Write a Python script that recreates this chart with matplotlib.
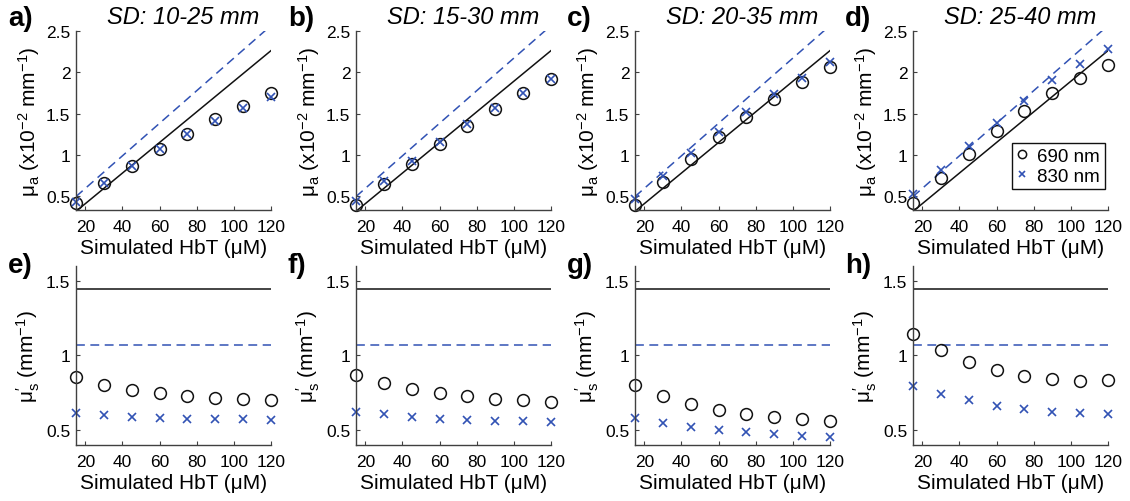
import matplotlib
matplotlib.use("Agg")
import matplotlib.pyplot as plt
import numpy as np

plt.rcParams['font.family'] = ['Liberation Sans', 'DejaVu Sans']
plt.rcParams['mathtext.fontset'] = 'custom'
plt.rcParams['mathtext.rm'] = 'Liberation Sans'
plt.rcParams['mathtext.it'] = 'Liberation Sans:italic'

hbt = [15, 30, 45, 60, 75, 90, 105, 120]
titles = ['SD: 10-25 mm', 'SD: 15-30 mm', 'SD: 20-35 mm', 'SD: 25-40 mm']
top_labels = ['a)', 'b)', 'c)', 'd)']
bot_labels = ['e)', 'f)', 'g)', 'h)']

# Recovered mu_a (x10^-2 mm^-1)
mua_690 = [
    [0.41, 0.65, 0.865, 1.07, 1.254, 1.437, 1.595, 1.745],
    [0.39, 0.64, 0.885, 1.125, 1.348, 1.555, 1.745, 1.92],
    [0.387, 0.67, 0.943, 1.21, 1.46, 1.68, 1.883, 2.066],
    [0.41, 0.71, 1.007, 1.283, 1.527, 1.745, 1.936, 2.094],
]
mua_830 = [
    [0.42, 0.65, 0.865, 1.07, 1.25, 1.405, 1.563, 1.70],
    [0.44, 0.68, 0.925, 1.157, 1.369, 1.567, 1.753, 1.92],
    [0.46, 0.743, 1.02, 1.27, 1.515, 1.733, 1.936, 2.13],
    [0.52, 0.816, 1.108, 1.384, 1.656, 1.907, 2.10, 2.285],
]
# True mu_a lines (endpoints at HbT 15 and 120)
true_hbt = [15, 120]
true_mua_690 = [0.31, 2.265]
true_mua_830 = [0.49, 2.57]

# Recovered mu_s' (mm^-1)
mus_690 = [
    [0.857, 0.80, 0.768, 0.746, 0.73, 0.717, 0.705, 0.699],
    [0.868, 0.8125, 0.777, 0.75, 0.728, 0.71, 0.699, 0.685],
    [0.80, 0.73, 0.676, 0.636, 0.607, 0.587, 0.574, 0.56],
    [1.14, 1.036, 0.953, 0.90, 0.864, 0.842, 0.83, 0.833],
]
mus_830 = [
    [0.616, 0.60, 0.587, 0.58, 0.576, 0.574, 0.571, 0.569],
    [0.62, 0.605, 0.587, 0.576, 0.567, 0.56, 0.558, 0.556],
    [0.578, 0.549, 0.52, 0.50, 0.487, 0.473, 0.462, 0.453],
    [0.795, 0.739, 0.699, 0.663, 0.638, 0.618, 0.612, 0.605],
]
true_mus_690 = 1.442
true_mus_830 = 1.071

BLUE = '#3152B4'
BLACK = '#111111'
SPINE = '#404040'

W, H = 1130, 502
fig = plt.figure(figsize=(W / 100, H / 100), dpi=100)

lefts = [76, 356, 635, 913]
width = 195

def ax_at(x0, y0, x1, y1):
    return fig.add_axes([x0 / W, 1 - y1 / H, (x1 - x0) / W, (y1 - y0) / H])

def style(ax):
    for s in ['top', 'right']:
        ax.spines[s].set_visible(False)
    for s in ['left', 'bottom']:
        ax.spines[s].set_color(SPINE)
        ax.spines[s].set_linewidth(1.0)
    ax.tick_params(direction='in', length=3, width=0.8, color=SPINE,
                   labelsize=12.5)
    ax.tick_params(axis='x', pad=6.5)
    ax.tick_params(axis='y', pad=4)
    ax.set_xlim(15, 120)
    ax.set_xticks([20, 40, 60, 80, 100, 120])
    ax.set_xlabel('Simulated HbT (μM)', fontsize=15, labelpad=3)

dash = (0, (5.8, 3.6))

for i in range(4):
    x0 = lefts[i]
    # Top: mu_a
    ax = ax_at(x0, 32.3, x0 + width, 210.7)
    style(ax)
    ax.plot(true_hbt, true_mua_690, color=BLACK, lw=1.1, clip_on=True)
    ax.plot(true_hbt, true_mua_830, color=BLUE, lw=1.1, linestyle=dash)
    l1, = ax.plot(hbt, mua_690[i], 'o', mfc='none', mec=BLACK, ms=8.5, mew=1.1,
                  clip_on=False, label='690 nm')
    l2, = ax.plot(hbt, mua_830[i], 'x', color=BLUE, ms=6, mew=1.2,
                  clip_on=False, label='830 nm')
    ax.set_ylim(0.33, 2.5)
    ax.set_yticks([0.5, 1, 1.5, 2, 2.5])
    ax.set_yticklabels(['0.5', '1', '1.5', '2', '2.5'])
    ax.set_ylabel('μ$_{\\mathrm{a}}$ (x10$^{-2}$ mm$^{-1}$)', fontsize=15, labelpad=3)
    if i == 3:
        leg = ax.legend(handles=[l1, l2], loc='upper left',
                        bbox_to_anchor=((1012 - x0) / width, (210.7 - 144) / 178.4),
                        fontsize=13.5, handlelength=0.6, handletextpad=0.5,
                        borderpad=0.25, labelspacing=0.15, markerscale=0.7,
                        fancybox=False, framealpha=1, edgecolor=BLACK,
                        borderaxespad=0)
        leg.get_frame().set_linewidth(1.0)

    # Bottom: mu_s'
    ax2 = ax_at(x0, 266.7, x0 + width, 446)
    style(ax2)
    ax2.axhline(true_mus_690, color=BLACK, lw=1.1, xmin=0, xmax=1)
    ax2.axhline(true_mus_830, color=BLUE, lw=1.1, linestyle=dash)
    ax2.plot(hbt, mus_690[i], 'o', mfc='none', mec=BLACK, ms=8.5, mew=1.1,
             clip_on=False)
    ax2.plot(hbt, mus_830[i], 'x', color=BLUE, ms=6, mew=1.2, clip_on=False)
    ax2.set_ylim(0.4, 1.6)
    ax2.set_yticks([0.5, 1, 1.5])
    ax2.set_yticklabels(['0.5', '1', '1.5'])
    ax2.set_ylabel("μ$^{\\prime}_{\\mathrm{s}}$ (mm$^{-1}$)", fontsize=15, labelpad=3)

    # Titles and panel labels
    fig.text((x0 + 107) / W, 1 - 17 / H, titles[i], fontsize=17, style='italic',
             ha='center', va='center')
    fig.text((x0 - 68) / W, 1 - 19 / H, top_labels[i], fontsize=20,
             fontweight='bold', ha='left', va='center')
    fig.text((x0 - 68) / W, 1 - 266 / H, bot_labels[i], fontsize=20,
             fontweight='bold', ha='left', va='center')

fig.savefig('out.png', dpi=100)
